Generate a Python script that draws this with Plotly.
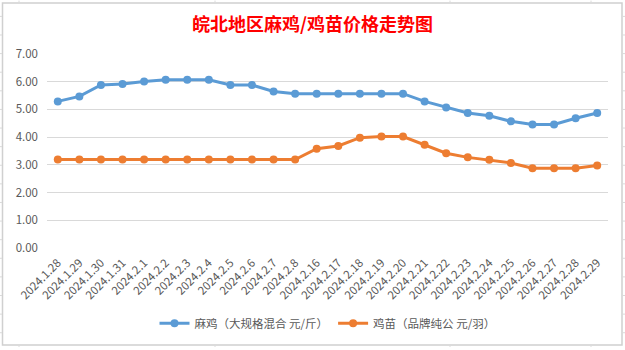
import plotly.graph_objects as go

dates = ["2024.1.28", "2024.1.29", "2024.1.30", "2024.1.31", "2024.2.1", "2024.2.2",
         "2024.2.3", "2024.2.4", "2024.2.5", "2024.2.6", "2024.2.7", "2024.2.8",
         "2024.2.16", "2024.2.17", "2024.2.18", "2024.2.19", "2024.2.20", "2024.2.21",
         "2024.2.22", "2024.2.23", "2024.2.24", "2024.2.25", "2024.2.26", "2024.2.27",
         "2024.2.28", "2024.2.29"]
maji = [5.29, 5.47, 5.88, 5.92, 6.01, 6.07, 6.07, 6.07, 5.88, 5.88, 5.65, 5.57,
        5.57, 5.57, 5.57, 5.57, 5.57, 5.29, 5.07, 4.87, 4.77, 4.57, 4.46, 4.46,
        4.68, 4.87]
jimiao = [3.19, 3.19, 3.19, 3.19, 3.19, 3.19, 3.19, 3.19, 3.19, 3.19, 3.19, 3.19,
          3.58, 3.68, 3.98, 4.02, 4.02, 3.73, 3.42, 3.27, 3.18, 3.07, 2.88, 2.88,
          2.88, 2.98]
yticks = [0, 1, 2, 3, 4, 5, 6, 7]
name_maji = "麻鸡（大规格混合 元/斤）"
name_jimiao = "鸡苗（品牌纯公 元/羽）"

W, H = 625, 350
L, R, T, B = 47, 17, 54, 100
pw, ph = W - L - R, H - T - B

def px(x):
    return (x - L) / pw

def py(y):
    return (H - B - y) / ph

font = "Noto Sans CJK SC, Microsoft YaHei, sans-serif"

fig = go.Figure()
fig.add_trace(go.Scatter(x=dates, y=maji, name=name_maji, mode="lines+markers",
                         line=dict(color="#5B9BD5", width=3),
                         marker=dict(color="#5B9BD5", size=8)))
fig.add_trace(go.Scatter(x=dates, y=jimiao, name=name_jimiao, mode="lines+markers",
                         line=dict(color="#ED7D31", width=3),
                         marker=dict(color="#ED7D31", size=8)))

shapes = []
# outer chart border
shapes.append(dict(type="rect", xref="paper", yref="paper",
                   x0=px(2.5), x1=px(622), y0=py(348), y1=py(2.5),
                   line=dict(color="#D0D0D0", width=1.5), layer="below"))
# spreadsheet cell lines outside the chart box
for xv in [19, 215, 450, 591]:
    shapes.append(dict(type="line", xref="paper", yref="paper", x0=px(xv), x1=px(xv),
                       y0=py(0), y1=py(2), line=dict(color="#DADADA", width=1)))
    shapes.append(dict(type="line", xref="paper", yref="paper", x0=px(xv), x1=px(xv),
                       y0=py(348.5), y1=py(350), line=dict(color="#DADADA", width=1)))
k = 0
while 16 + 18.8 * k < 350:
    yv = 16 + 18.8 * k
    shapes.append(dict(type="line", xref="paper", yref="paper", x0=px(0), x1=px(2),
                       y0=py(yv), y1=py(yv), line=dict(color="#DADADA", width=1)))
    shapes.append(dict(type="line", xref="paper", yref="paper", x0=px(623), x1=px(625),
                       y0=py(yv), y1=py(yv), line=dict(color="#DADADA", width=1)))
    k += 1

fig.update_layout(
    width=W, height=H,
    margin=dict(l=L, r=R, t=T, b=B),
    paper_bgcolor="white", plot_bgcolor="white",
    font=dict(family=font, color="#595959"),
    title=dict(text="<b>皖北地区麻鸡/鸡苗价格走势图</b>", x=0.5, xanchor="center",
               y=1 - 25 / H, yanchor="middle", yref="container",
               font=dict(family=font, size=18, color="#FF0000")),
    showlegend=True,
    legend=dict(orientation="h", x=0.5, xanchor="center", y=py(326), yanchor="middle",
                font=dict(size=11.5, color="#595959"), itemwidth=30,
                bgcolor="rgba(0,0,0,0)"),
    shapes=shapes,
)
fig.update_xaxes(type="category", tickangle=-45, tickfont=dict(size=11.5, color="#595959"),
                 showgrid=False, showline=False, zeroline=False, ticks="",
                 ticklabelstandoff=5,
                 range=[-0.5, len(dates) - 0.5])
fig.update_yaxes(range=[0, 7], tickvals=yticks, tickformat=".2f",
                 tickfont=dict(size=11.5, color="#595959"),
                 showgrid=True, gridcolor="#D9D9D9", gridwidth=1,
                 zeroline=False, showline=False, ticks="", ticklabelstandoff=8)

fig.write_html("out.html")
